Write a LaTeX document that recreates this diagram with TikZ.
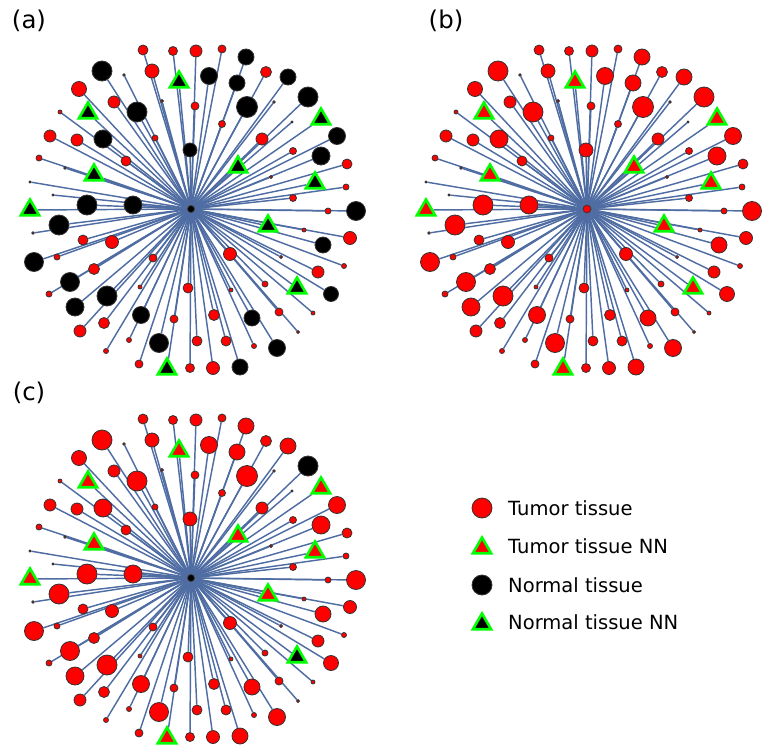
\documentclass[tikz,border=0pt]{standalone}
\usepackage{fontspec}
\setmainfont{DejaVu Sans}
\usetikzlibrary{shapes.geometric,positioning}
\definecolor{spokeblue}{HTML}{4F6DA3}
\definecolor{tumorred}{HTML}{FF0000}
\definecolor{nngreen}{HTML}{00FF00}
\pgfdeclarelayer{bg}
\pgfsetlayers{bg,main}
\tikzset{
    spoke/.style={draw=spokeblue, line width=1.45bp},
    tissue/.style={circle, draw=black!80, line width=0.8bp, inner sep=0pt},
    tumor/.style={tissue, fill=tumorred},
    normal/.style={tissue, fill=black},
    nn/.style={regular polygon, regular polygon sides=3, draw=nngreen, line width=2.6bp, inner sep=0pt, minimum size=21bp},
    tumornn/.style={nn, fill=tumorred},
    normalnn/.style={nn, fill=black},
    aT/.style={tumor}, bT/.style={tumor}, cT/.style={tumor},
    aN/.style={normal}, bN/.style={tumor}, cN/.style={tumor},
    aM/.style={normal}, bM/.style={tumor}, cM/.style={normal},
    aP/.style={normalnn}, bP/.style={tumornn}, cP/.style={tumornn},
    aQ/.style={normalnn}, bQ/.style={tumornn}, cQ/.style={normalnn},
    ahub/.style={normal, minimum size=7bp},
    bhub/.style={tumor, minimum size=8bp},
    chub/.style={normal, minimum size=7bp},
    panellabel/.style={inner sep=0pt, font=\fontsize{24.5}{28}\selectfont},
    legtext/.style={inner sep=0pt, anchor=west, font=\fontsize{19.6}{24}\selectfont}
}
% x/y/radius/type of every tissue sample, in panel (a)
\def\tissuelist{143/50/5/T, 173/51/4.5/T, 196/51/6/T, 222/49/4/T, 246/57/8/N,
    102/71/10/N, 124/75/1.2/T, 152/71/7/T, 179/82/0/P, 209/76/8.5/N, 266/72/5.5/T,
    288/77/8/N, 237/83/8/N, 79/89/7.5/T, 162/101/1.5/T, 195/106/4/T, 114/102/6/T,
    137/112/10/N, 88/113/0/P, 60/112/2/T, 247/107/10.5/N, 274/102/1.2/T, 308/97/10/M,
    321/119/0/P, 292/122/1/T, 222/124/3.5/T, 337/136/8.5/N, 262/139/6/T, 293/151/3.5/T,
    190/150/7/N, 321/156/9/N, 50/136/6/T, 77/140/6/T, 103/139/9/N, 155/138/3/T,
    39/158/3/T, 126/161/5/T, 65/168/1.2/T, 94/175/0/P, 30/182/1/T, 53/195/1/T,
    87/205/10/N, 133/205/9/N, 30/210/0/P, 238/167/0/P, 347/164/5/T, 271/177/1.5/T,
    315/183/0/P, 346/187/3/T, 293/198/3.5/T, 356/211/9.5/N, 328/211/3/T,
    59/225/10/N, 33/233/1.2/T, 83/240/5/T, 112/242/6.5/T, 34/262/9.5/N, 57/257/3/T,
    153/258/4/T, 94/269/5.5/T, 70/282/9.5/N, 49/294/3/T, 140/287/2/T, 107/296/10/N,
    188/288/5/T, 75/307/9/N, 141/315/8.5/N, 174/319/4/T, 104/323/5.5/T, 80/331/6/T,
    129/340/2.5/T, 159/343/9.5/N, 197/341/5/T, 106/351/2.5/T, 139/364/4/T,
    167/369/0/P, 190/368/4.5/T, 268/226/0/P, 304/230/2/T, 350/238/6.5/T, 323/245/8/N,
    230/254/6.5/T, 281/257/1.5/T, 344/266/2.5/T, 318/272/6/T, 265/284/3/T, 231/290/2/T,
    297/288/0/Q, 331/294/7.5/N, 279/312/4/T, 313/313/2/T, 214/315/5.5/T, 252/318/8/N,
    298/332/1.5/T, 226/341/5/T, 254/346/2.5/T, 277/348/8.5/N, 213/368/6.5/T, 240/367/8/N}

\begin{document}
\begin{tikzpicture}[x=1bp, y=-1bp]
    \useasboundingbox (0,0) rectangle (772,753);

    \node[panellabel] (labela) at (29,21) {(a)};
    \node[panellabel] (labelb) at (446,21) {(b)};
    \node[panellabel] (labelc) at (29,393) {(c)};

    \foreach \p/\dx/\dy in {a/0/0, b/396/0, c/0/369}
    {
        \begin{scope}[shift={(\dx,\dy)}]
            \node[\p hub] (\p0) at (191,209) {};
            \foreach \x/\y/\r/\t [count=\i] in \tissuelist
                {\node[minimum size=2*\r bp, \p\t] (\p\i) at (\x,\y) {};}
        \end{scope}
        \begin{pgfonlayer}{bg}
            \foreach \i in {1,...,99}
                {\draw[spoke] (\p0) -- (\p\i);}
        \end{pgfonlayer}
    }

    \node[tumor, minimum size=20bp] (legtumor) at (482,508) {};
    \node[tumornn] (legtumornn) at (482,548) {};
    \node[normal, minimum size=20bp] (legnormal) at (482,585) {};
    \node[normalnn] (legnormalnn) at (482,624) {};
    \node[legtext, right=26bp of legtumor.center] {Tumor tissue};
    \node[legtext, right=26bp of legtumornn.center, yshift=1.5bp] {Tumor tissue NN};
    \node[legtext, right=26bp of legnormal.center] {Normal tissue};
    \node[legtext, right=26bp of legnormalnn.center, yshift=1.5bp] {Normal tissue NN};
\end{tikzpicture}
\end{document}
